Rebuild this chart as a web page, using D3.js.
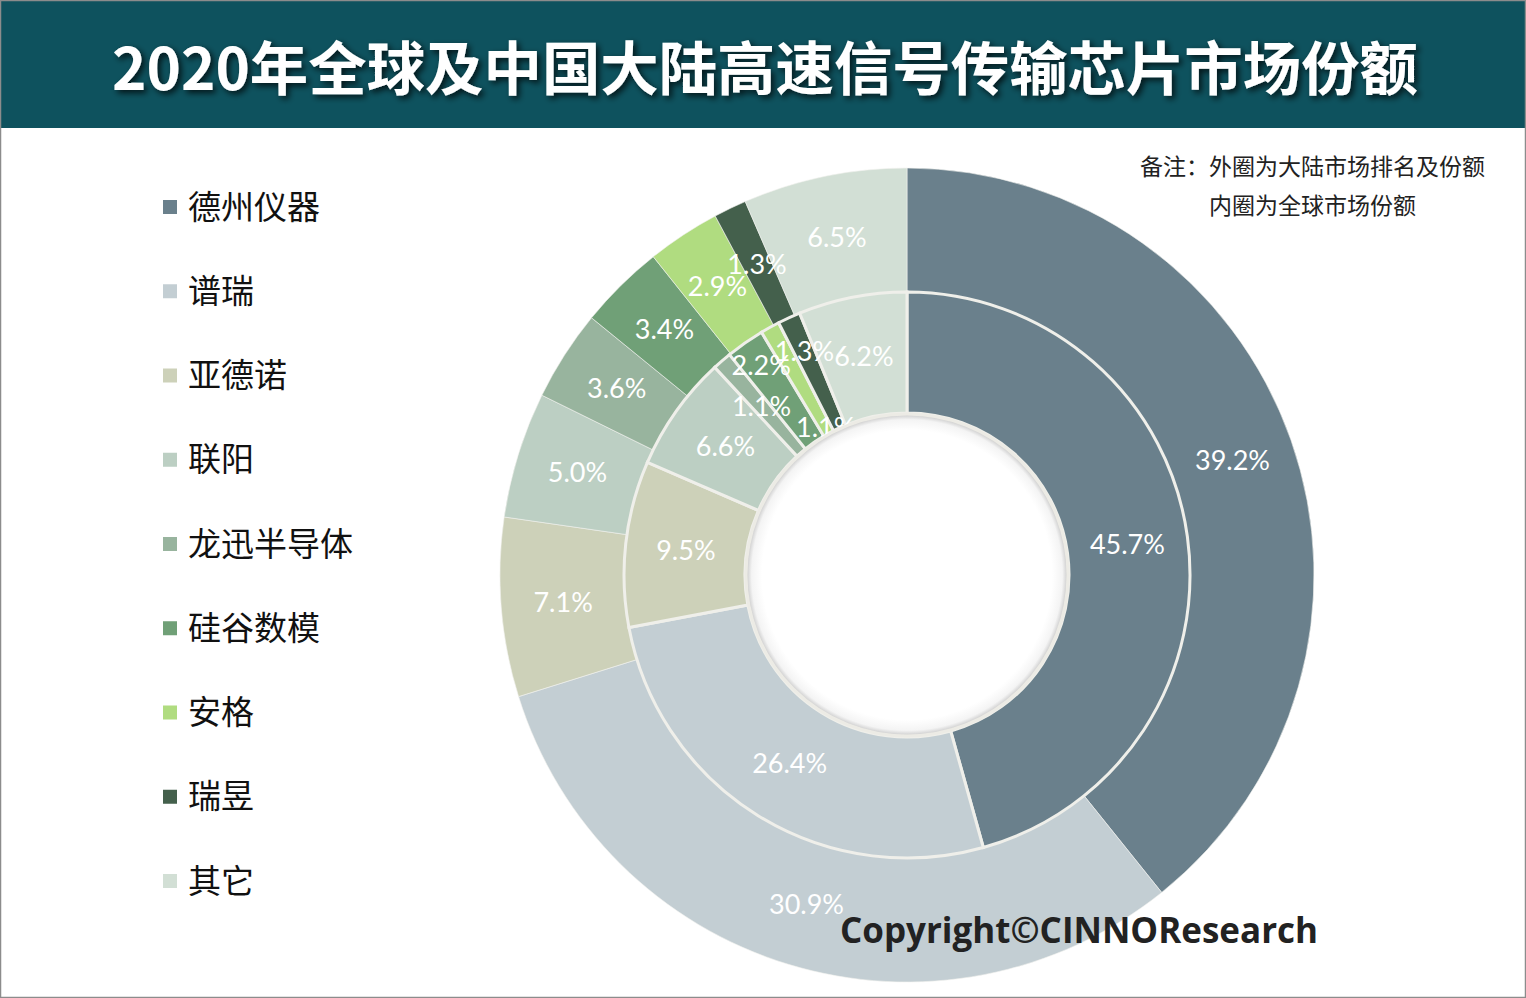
<!DOCTYPE html>
<html><head><meta charset="utf-8">
<script src="https://cdn.jsdelivr.net/npm/d3@7/dist/d3.min.js"></script>
<style>
html,body{margin:0;padding:0;background:#fff;}
svg{display:block;}
</style></head>
<body>
<svg id="chart" width="1526" height="998"></svg>
<script>
const title = "2020年全球及中国大陆高速信号传输芯片市场份额";
const categories = ["德州仪器","谱瑞","亚德诺","联阳","龙迅半导体","硅谷数模","安格","瑞昱","其它"];
const mainlandShare = [39.2, 30.9, 7.1, 5.0, 3.6, 3.4, 2.9, 1.3, 6.5];
const globalShare = [45.7, 26.4, 9.5, 6.6, 1.1, 2.2, 1.1, 1.3, 6.2];
const colors = ["#6a808c","#c3ced3","#cdd1b9","#bccfc3","#98b49e","#70a077","#b0dc80","#44604c","#d2dfd5"];
const noteLines = ["备注：外圈为大陆市场排名及份额","内圈为全球市场份额"];
const copyright = "Copyright©CINNOResearch";

const W = 1526, H = 998;
const svg = d3.select("#chart");
const defs = svg.append("defs");

const f = defs.append("filter").attr("id","tshadow").attr("x","-10%").attr("y","-30%").attr("width","120%").attr("height","160%");
f.append("feDropShadow").attr("dx",3).attr("dy",3).attr("stdDeviation",3).attr("flood-color","#000").attr("flood-opacity",0.75);

const rg = defs.append("radialGradient").attr("id","hole");
rg.append("stop").attr("offset","0.90").attr("stop-color","#ffffff");
rg.append("stop").attr("offset","0.965").attr("stop-color","#f4f4f4");
rg.append("stop").attr("offset","1").attr("stop-color","#c8c8c8");

svg.append("rect").attr("x",0).attr("y",0).attr("width",W).attr("height",H).attr("fill","#fff");

// banner
svg.append("rect").attr("x",0).attr("y",0).attr("width",W).attr("height",128).attr("fill","#0e525e");
svg.append("text").attr("x",765).attr("y",90)
  .attr("text-anchor","middle")
  .attr("font-family","'Noto Sans CJK SC',sans-serif").attr("font-weight",700)
  .attr("font-size",58).attr("fill","#fff").attr("filter","url(#tshadow)")
  .attr("textLength",1306).attr("lengthAdjust","spacingAndGlyphs")
  .text(title);

svg.append("rect").attr("x",0.5).attr("y",0.5).attr("width",W-1).attr("height",H-1)
  .attr("fill","none").attr("stroke","#8c8c8c").attr("stroke-width",1.5);

// donut
const cx = 907, cy = 575;
const rOuter = 407, rMid = 283, rInner = 162;
const pie = d3.pie().sort(null).value(d => d);
const g = svg.append("g").attr("transform",`translate(${cx},${cy})`);

const arcOuter = d3.arc().innerRadius(rMid).outerRadius(rOuter);
const arcInnerRing = d3.arc().innerRadius(rInner).outerRadius(rMid);

const outerArcs = pie(mainlandShare);
const innerArcs = pie(globalShare);

g.selectAll("path.outer").data(outerArcs).join("path")
  .attr("class","outer").attr("d",arcOuter)
  .attr("fill",(d,i)=>colors[i]).attr("stroke","#f2f2ee").attr("stroke-width",0.6);

g.selectAll("path.inner").data(innerArcs).join("path")
  .attr("class","inner").attr("d",arcInnerRing)
  .attr("fill",(d,i)=>colors[i]).attr("stroke","#efefea").attr("stroke-width",3);

const labelFont = "'Lato','Open Sans',sans-serif";
const fmt = d => d3.format(".1f")(d.data)+"%";

// label layout: radius override for crowded thin inner slices (layout only)
const innerLabelRadius = {5: 255, 6: 168, 7: 246};
function innerPos(d,i){
  const r = innerLabelRadius[i] !== undefined ? innerLabelRadius[i] : (rInner+rMid)/2;
  const a = (d.startAngle+d.endAngle)/2;
  return [r*Math.sin(a), -r*Math.cos(a)];
}

g.selectAll("text.ol").data(outerArcs).join("text")
  .attr("class","ol")
  .attr("transform",d=>`translate(${arcOuter.centroid(d)})`)
  .attr("text-anchor","middle").attr("dy","0.35em")
  .attr("font-family",labelFont).attr("font-weight",400).attr("font-size",27)
  .attr("fill","#fff").text(fmt);

g.selectAll("text.il").data(innerArcs).join("text")
  .attr("class","il")
  .attr("transform",(d,i)=>`translate(${innerPos(d,i)})`)
  .attr("text-anchor","middle").attr("dy","0.35em")
  .attr("font-family",labelFont).attr("font-weight",400).attr("font-size",27)
  .attr("fill","#fff").text(fmt);

// hole drawn on top
g.append("circle").attr("r",rInner-1).attr("fill","url(#hole)")
  .attr("stroke","#ecebe5").attr("stroke-width",3);

// legend
const ly = d3.scalePoint().domain(categories).range([207, 881]);
const items = svg.append("g").selectAll("g").data(categories).join("g")
  .attr("transform",d=>`translate(163,${ly(d)})`);
items.append("rect").attr("x",0).attr("y",-7).attr("width",14).attr("height",14)
  .attr("fill",(d,i)=>colors[i]);
items.append("text").attr("x",25).attr("dy","0.35em")
  .attr("font-family","'Noto Sans CJK SC',sans-serif").attr("font-size",33)
  .attr("fill","#111").text(d=>d);

// note
svg.append("text").attr("x",1140).attr("y",175)
  .attr("font-family","'Noto Sans CJK SC',sans-serif").attr("font-size",23).attr("fill","#222")
  .text(noteLines[0]);
svg.append("text").attr("x",1209).attr("y",214)
  .attr("font-family","'Noto Sans CJK SC',sans-serif").attr("font-size",23).attr("fill","#222")
  .text(noteLines[1]);

// copyright
svg.append("text").attr("x",840).attr("y",943)
  .attr("font-family","'Open Sans',sans-serif").attr("font-weight",700)
  .attr("font-size",36).attr("fill","#222")
  .attr("textLength",478).attr("lengthAdjust","spacingAndGlyphs")
  .text(copyright);
</script>
</body></html>
